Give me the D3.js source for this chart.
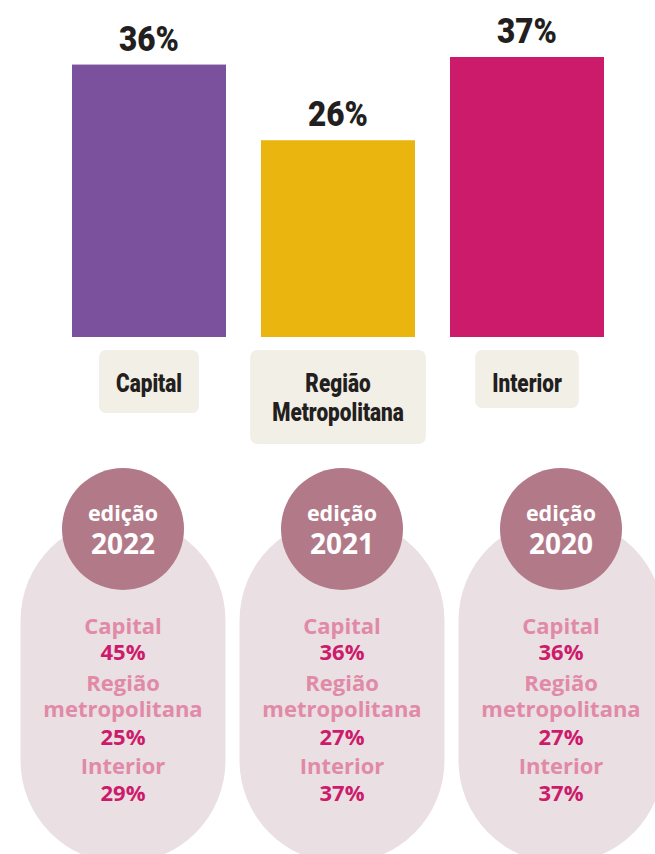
<!DOCTYPE html>
<html>
<head>
<meta charset="utf-8">
<script src="https://cdn.jsdelivr.net/npm/d3@7"></script>
<style>
  body { margin: 0; background: #fff; }
  .cond { font-family: Roboto, "Liberation Sans", sans-serif; font-weight: 900; }
  .open { font-family: "Open Sans", sans-serif; font-weight: 700; }
</style>
</head>
<body>
<div class="chart"></div>
<script>
// dimensions of the page
const w = 655;
const h = 854;

// data
const categories = ["Capital", "Região Metropolitana", "Interior"];
const values = [36, 26, 37];
const barColors = ["#7b519e", "#ebb510", "#cb1b6a"];

const editions = ["2022", "2021", "2020"];
const capital = [45, 36, 36];
const metro = [25, 27, 27];
const interior = [29, 37, 37];

const svg = d3.select(".chart").append("svg")
  .attr("width", w)
  .attr("height", h);

// top bars
const xScale = d3.scaleBand()
  .domain(categories)
  .range([54.5, 621.5])
  .paddingInner(35 / 189)
  .paddingOuter(17.5 / 189);

const yScale = d3.scaleLinear()
  .domain([0, 37])
  .range([337, 57]);

const bars = categories.map((c, i) => ({ cat: c, val: values[i], color: barColors[i] }));

svg.selectAll("rect.bar")
  .data(bars)
  .enter().append("rect")
  .attr("class", "bar")
  .attr("x", d => xScale(d.cat))
  .attr("y", d => yScale(d.val))
  .attr("width", xScale.bandwidth())
  .attr("height", d => yScale(0) - yScale(d.val))
  .attr("fill", d => d.color);

// value labels, squeezed a bit to look condensed
svg.selectAll("g.val")
  .data(bars)
  .enter().append("g")
  .attr("class", "val")
  .attr("transform", d => "translate(" + (xScale(d.cat) + xScale.bandwidth() / 2) + "," + (yScale(d.val) - 14) + ") scale(0.9,1)")
  .append("text")
  .attr("class", "cond")
  .attr("text-anchor", "middle")
  .attr("font-size", 35)
  .attr("fill", "#231f20")
  .text(d => d.val + "%");

// category boxes under the bars
const catG = svg.selectAll("g.cat")
  .data(bars)
  .enter().append("g")
  .attr("class", "cat")
  .attr("transform", d => "translate(" + (xScale(d.cat) + xScale.bandwidth() / 2) + ",0)");

const sx = 0.8;
catG.each(function(d) {
  const g = d3.select(this);
  const words = d.cat.split(" ");
  const box = g.append("rect")
    .attr("fill", "#f2efe7")
    .attr("rx", 7);
  const t = g.append("text")
    .attr("class", "cond")
    .attr("text-anchor", "middle")
    .attr("font-size", 26)
    .attr("transform", "scale(" + sx + ",1)")
    .attr("fill", "#231f20");
  words.forEach((wd, j) => {
    t.append("tspan").attr("x", 0).attr("y", 392 + j * 29).text(wd);
  });
  const bb = t.node().getBBox();
  const bw = bb.width * sx + (words.length > 1 ? 44 : 34);
  const bh = words.length > 1 ? 94 : (d.cat === "Capital" ? 63 : 58);
  box.attr("x", -bw / 2).attr("y", 350).attr("width", bw).attr("height", bh);
});

// bottom pills, one per edition
const eScale = d3.scaleBand()
  .domain(editions)
  .range([13.5, 670.5])
  .paddingInner(14 / 219)
  .paddingOuter(7 / 219);

const eds = editions.map((e, i) => ({ ed: e, cap: capital[i], met: metro[i], int: interior[i] }));

const edG = svg.selectAll("g.ed")
  .data(eds)
  .enter().append("g")
  .attr("class", "ed")
  .attr("transform", d => "translate(" + (eScale(d.ed) + eScale.bandwidth() / 2) + ",0)");

edG.append("rect")
  .attr("x", -eScale.bandwidth() / 2)
  .attr("y", 518)
  .attr("width", eScale.bandwidth())
  .attr("height", 345)
  .attr("rx", eScale.bandwidth() / 2)
  .attr("fill", "#eadfe2");

edG.append("circle")
  .attr("cx", 0)
  .attr("cy", 529)
  .attr("r", 61)
  .attr("fill", "#b27a89");

edG.append("text")
  .attr("class", "open")
  .attr("text-anchor", "middle")
  .attr("y", 521)
  .attr("font-size", 21.5)
  .attr("fill", "#fff")
  .text("edição");

edG.append("text")
  .attr("class", "open")
  .attr("text-anchor", "middle")
  .attr("y", 554)
  .attr("font-size", 28)
  .attr("fill", "#fff")
  .text(d => d.ed);

// lines inside the pill
const pink = "#e18aa8";
const mag = "#cc1b6b";
edG.each(function(d) {
  const g = d3.select(this);
  const lines = [
    ["Capital", pink, 634],
    [d.cap + "%", mag, 660],
    ["Região", pink, 691],
    ["metropolitana", pink, 717],
    [d.met + "%", mag, 745],
    ["Interior", pink, 774],
    [d.int + "%", mag, 801]
  ];
  lines.forEach(l => {
    g.append("text")
      .attr("class", "open")
      .attr("text-anchor", "middle")
      .attr("y", l[2])
      .attr("font-size", 22)
      .attr("fill", l[1])
      .text(l[0]);
  });
});
</script>
</body>
</html>
